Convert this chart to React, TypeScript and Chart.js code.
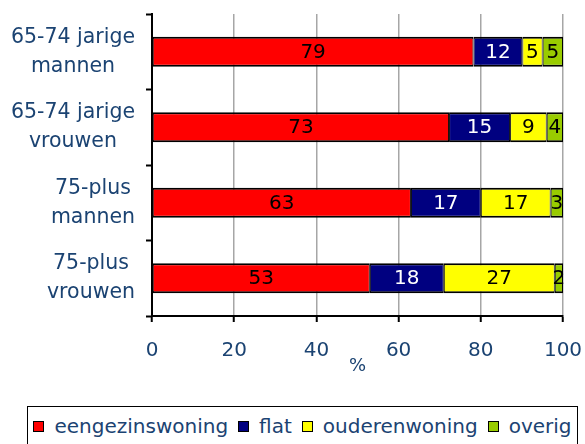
import React, { useEffect, useRef } from "react";
import { Chart, registerables } from "chart.js";

Chart.register(...registerables);

const categories: string[][] = [
  ["65-74 jarige", "mannen"],
  ["65-74 jarige", "vrouwen"],
  ["75-plus", "mannen"],
  ["75-plus", "vrouwen"],
];
const seriesNames = ["eengezinswoning", "flat", "ouderenwoning", "overig"];
const eengezinswoning = [79, 73, 63, 53];
const flat = [12, 15, 17, 18];
const ouderenwoning = [5, 9, 17, 27];
const overig = [5, 4, 3, 2];
const xTicks = [0, 20, 40, 60, 80, 100];
const xTitle = "%";

const seriesValues = [eengezinswoning, flat, ouderenwoning, overig];
const colors = ["#FF0000", "#000080", "#FFFF00", "#99CC00"];
const labelColors = ["#000000", "#FFFFFF", "#000000", "#000000"];
const textColor = "#1b4372";
const FONT = '"DejaVu Sans", Verdana, sans-serif';

const rowSums = categories.map((_, i) =>
  seriesValues.reduce((s, arr) => s + arr[i], 0)
);

const valueLabels = {
  id: "valueLabels",
  afterDatasetsDraw(chart: any) {
    const ctx = chart.ctx;
    ctx.save();
    ctx.font = `20px ${FONT}`;
    ctx.textAlign = "center";
    ctx.textBaseline = "middle";
    chart.data.datasets.forEach((_: any, di: number) => {
      const meta = chart.getDatasetMeta(di);
      meta.data.forEach((bar: any, i: number) => {
        const { x, base, y } = bar.getProps(["x", "base", "y"], true);
        ctx.fillStyle = labelColors[di];
        ctx.fillText(String(seriesValues[di][i]), (x + base) / 2, y + 1);
      });
    });
    ctx.restore();
  },
};

const yLabels = {
  id: "yLabels",
  afterDraw(chart: any) {
    const ctx = chart.ctx;
    const yScale = chart.scales.y;
    const rightEdge = yScale.right - 17;
    const lineGap = 29;
    ctx.save();
    ctx.font = `20.5px ${FONT}`;
    ctx.textAlign = "center";
    ctx.textBaseline = "middle";
    ctx.fillStyle = textColor;
    categories.forEach((lines, i) => {
      const cy = yScale.getPixelForTick(i);
      const w = Math.max(...lines.map((l) => ctx.measureText(l).width));
      const cx = rightEdge - w / 2;
      const start = cy - ((lines.length - 1) * lineGap) / 2;
      lines.forEach((l, li) => {
        ctx.fillText(l, cx, start + li * lineGap);
      });
    });
    ctx.restore();
  },
};

export default function App() {
  const canvasRef = useRef<HTMLCanvasElement | null>(null);

  useEffect(() => {
    if (!canvasRef.current) return;
    const chart = new Chart(canvasRef.current, {
      type: "bar",
      data: {
        labels: categories.map((c) => c.join(" ")),
        datasets: seriesNames.map((name, di) => ({
          label: name,
          data: seriesValues[di].map((v, i) => (v / rowSums[i]) * 100),
          backgroundColor: colors[di],
          borderColor: "#000000",
          borderWidth: { top: 2, bottom: 2, left: 1, right: 1 },
          borderSkipped: false,
          categoryPercentage: 1,
          barPercentage: 0.4,
        })),
      },
      options: {
        indexAxis: "y",
        responsive: false,
        animation: false,
        layout: { padding: { top: 14, right: 22, left: 0, bottom: 0 } },
        plugins: {
          legend: { display: false },
          tooltip: { enabled: false },
        },
        scales: {
          x: {
            stacked: true,
            min: 0,
            max: 100,
            afterBuildTicks: (scale: any) => {
              scale.ticks = xTicks.map((v) => ({ value: v }));
            },
            afterFit: (scale: any) => {
              scale.height = 84;
              scale.paddingLeft = 0;
              scale.paddingRight = 0;
            },
            ticks: {
              color: textColor,
              font: { family: FONT, size: 20 },
              padding: 17,
              maxRotation: 0,
            },
            grid: {
              color: "#a6a6a6",
              lineWidth: 1.5,
              drawTicks: true,
              tickLength: 6,
              tickColor: "#000000",
              tickWidth: 2,
            },
            border: { color: "#000000", width: 2 },
            title: {
              display: true,
              text: xTitle,
              color: textColor,
              font: { family: FONT, size: 18 },
              padding: { top: 0, bottom: 23 },
            },
          },
          y: {
            stacked: true,
            afterFit: (scale: any) => {
              scale.width = 152;
            },
            ticks: { display: false },
            grid: {
              offset: true,
              drawOnChartArea: false,
              drawTicks: true,
              tickLength: 6,
              tickColor: "#000000",
              tickWidth: 2,
            },
            border: { color: "#000000", width: 2 },
          },
        },
      },
      plugins: [valueLabels, yLabels],
    } as any);
    return () => chart.destroy();
  }, []);

  return (
    <div style={{ position: "absolute", left: 0, top: 0, width: 585, height: 444, background: "#fff", overflow: "hidden" }}>
      <canvas ref={canvasRef} width={585} height={400} style={{ display: "block" }} />
      <div
        style={{
          position: "absolute",
          left: 27,
          top: 406,
          width: 551,
          height: 60,
          border: "1px solid #000",
          boxSizing: "border-box",
          display: "flex",
          justifyContent: "center",
          alignItems: "flex-start",
          paddingTop: 7,
          fontFamily: FONT,
          fontSize: 20,
          lineHeight: "24px",
          color: textColor,
        }}
      >
        {seriesNames.map((name, di) => (
          <div key={name} style={{ display: "flex", alignItems: "center", marginRight: di < seriesNames.length - 1 ? 10 : 0 }}>
            <span
              style={{
                display: "inline-block",
                width: 11,
                height: 11,
                boxSizing: "border-box",
                border: "1.5px solid #000",
                background: colors[di],
                marginRight: 10,
              }}
            />
            <span>{name}</span>
          </div>
        ))}
      </div>
    </div>
  );
}
